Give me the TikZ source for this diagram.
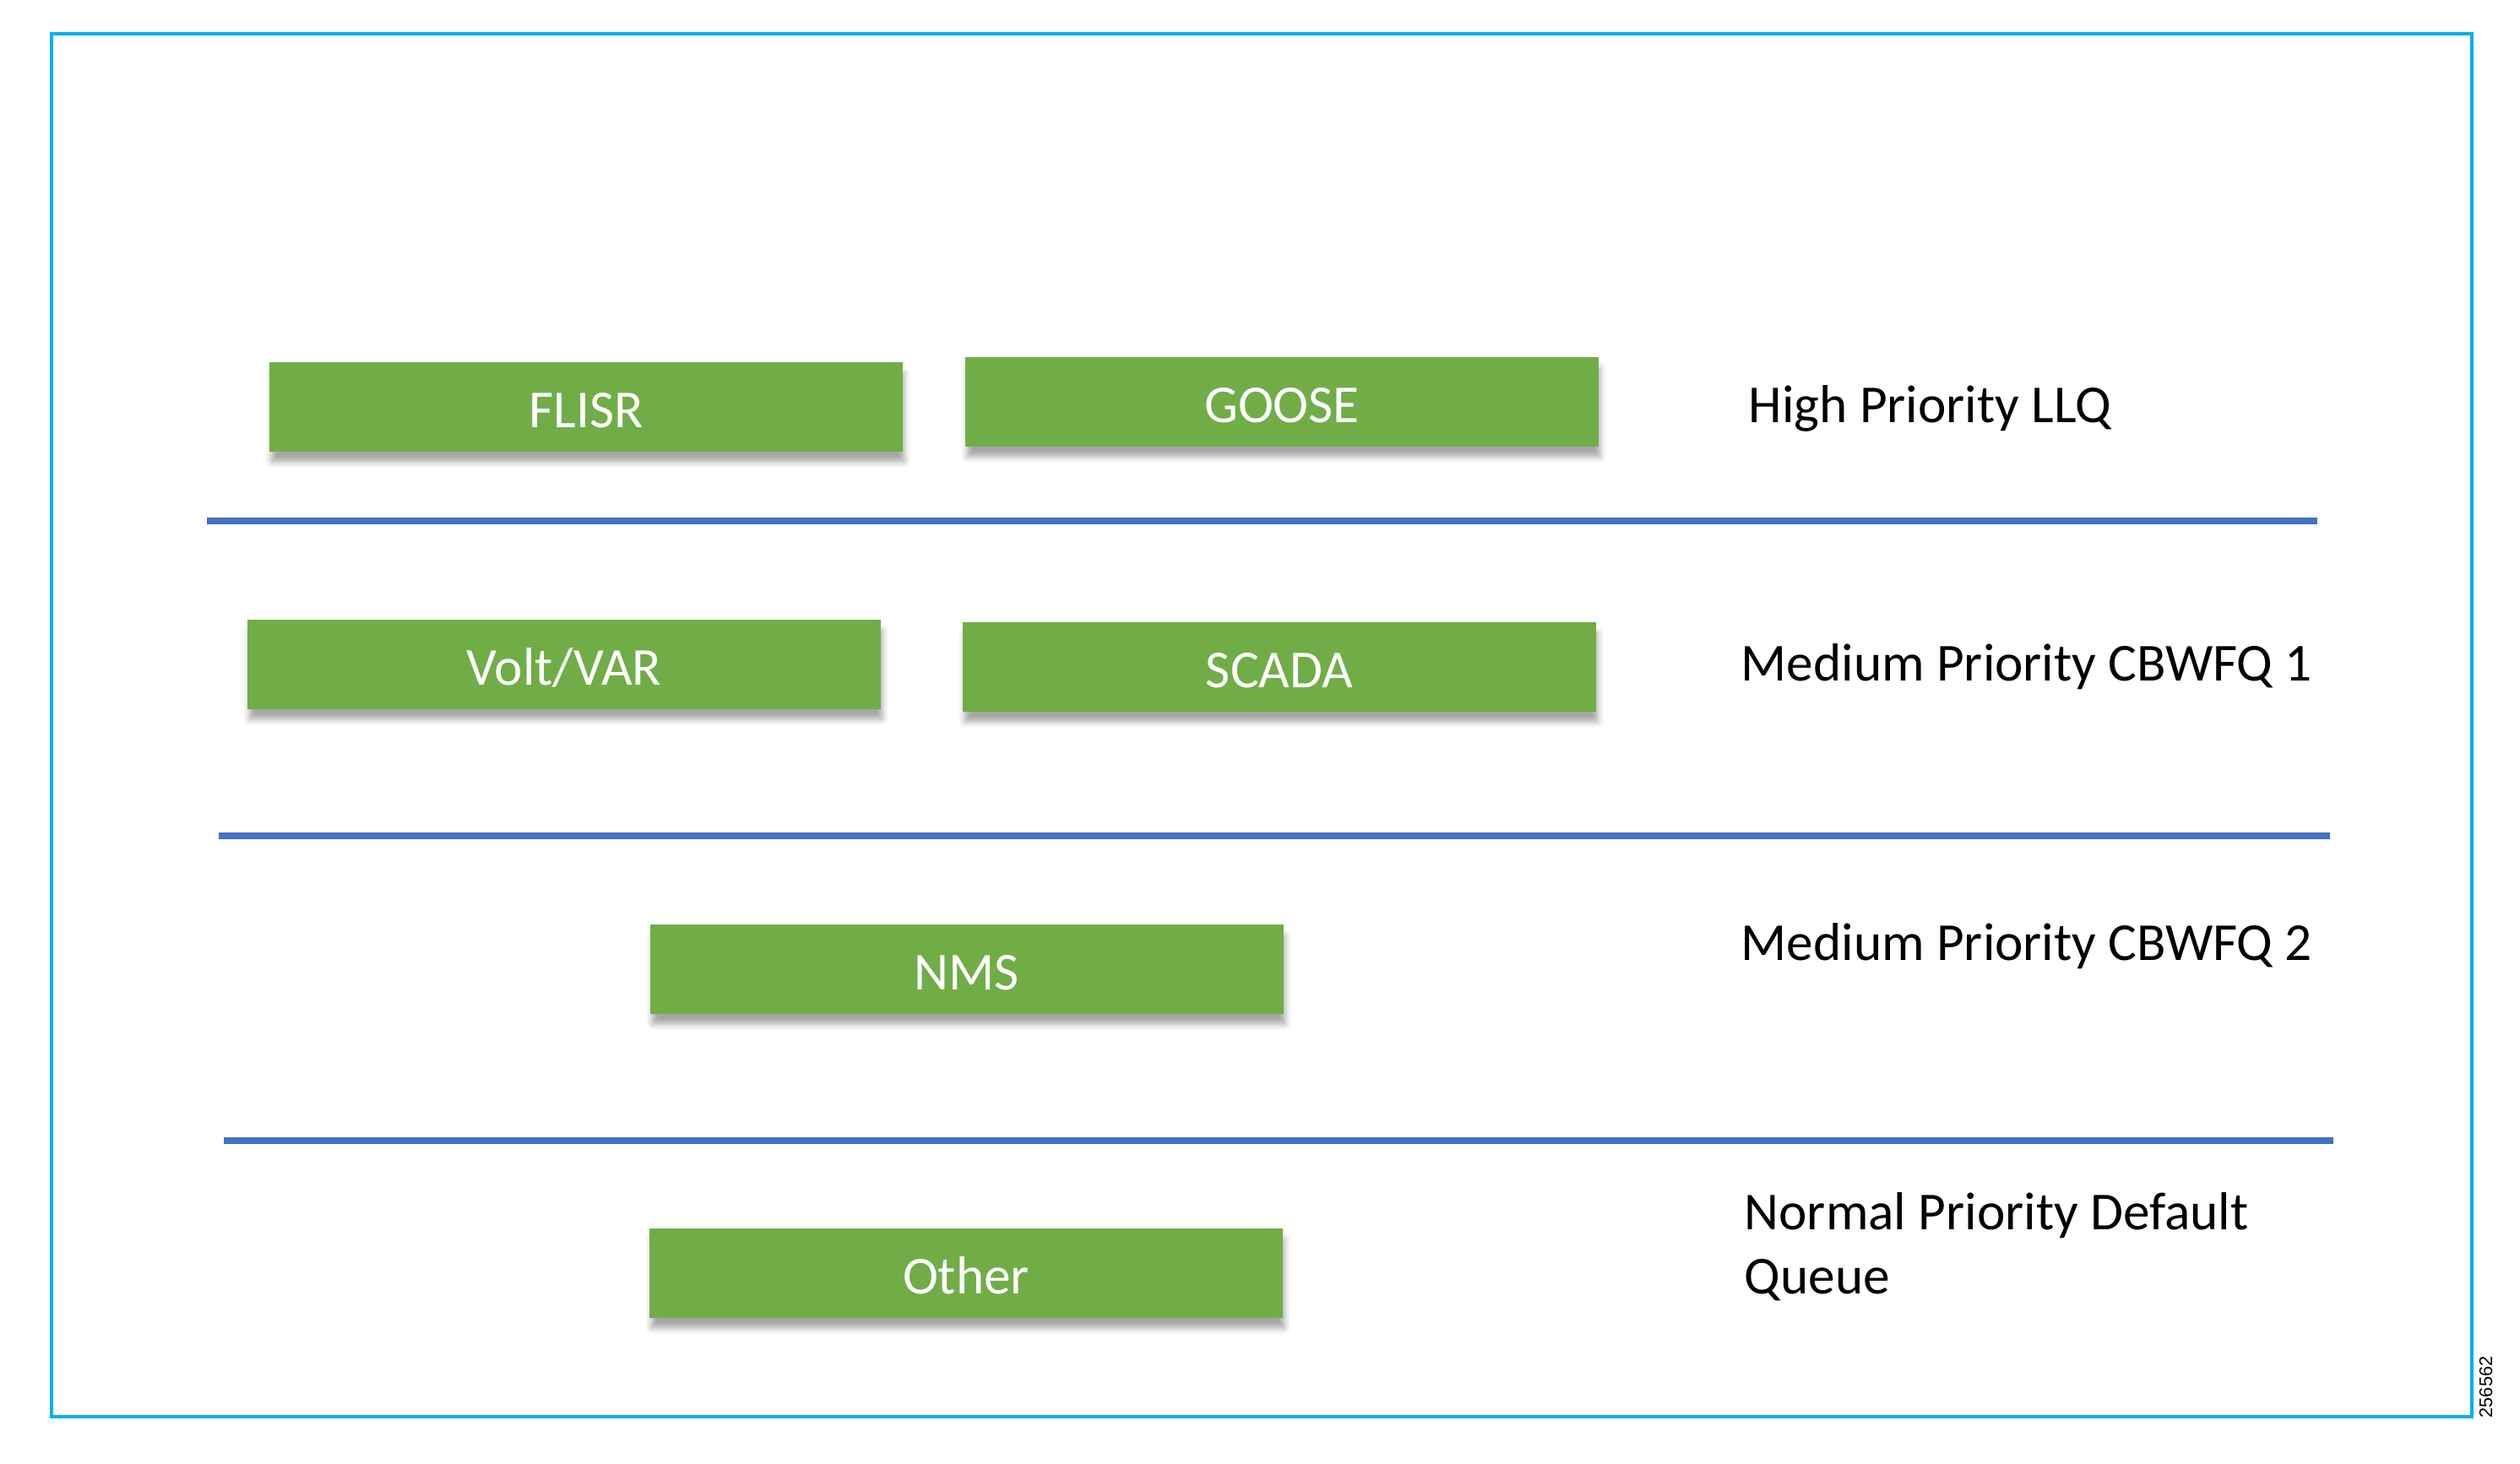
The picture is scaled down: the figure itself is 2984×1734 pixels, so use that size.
\documentclass[tikz,border=0pt]{standalone}
\usepackage{fontspec}
\setmainfont{Carlito}
\newfontfamily\figidfont{Liberation Sans}
\usetikzlibrary{positioning,shadows.blur}
\definecolor{boxgreen}{HTML}{70AD47}
\definecolor{sepblue}{HTML}{4472C4}
\definecolor{framecyan}{HTML}{00B0F0}

\begin{document}
\begin{tikzpicture}[
  x=0.01cm, y=-0.01cm,
  traffic/.style={rectangle, fill=boxgreen, minimum width=7.49cm, minimum height=1.05cm,
    inner sep=0pt, text height=13.8pt, text depth=0pt, text=white,
    font=\fontsize{18}{21.6}\selectfont,
    blur shadow={shadow xshift=0.6pt, shadow yshift=-3.5pt, shadow blur radius=2pt,
      shadow opacity=35}},
  queue/.style={anchor=west, align=left, inner sep=0pt, font=\fontsize{18}{21.6}\selectfont},
  separator/.style={draw=sepblue, line width=2pt},
  every node/.style={align=center}
]

\useasboundingbox (0,0) rectangle (2984,1734);
\draw[framecyan, line width=1.1pt] (61,40) rectangle (2927,1678);

\node[traffic] (flisr) at (694,482) {FLISR};
\node[traffic] (goose) at (1518,476) {GOOSE};

\node[traffic] (voltvar) at (668,787) {Volt/VAR};
\node[traffic] (scada) at (1515,790) {SCADA};

\node[traffic] (nms) at (1145,1148) {NMS};

\node[traffic] (other) at (1144,1508) {Other};

\node[queue] (llq) at (2070,484) {High Priority LLQ};
\node[queue] (cbwfqone) at (2061,790) {Medium Priority CBWFQ 1};
\node[queue] (cbwfqtwo) at (2061,1121) {Medium Priority CBWFQ 2};
\node[queue] (default) at (2065,1477) {Normal Priority Default\\Queue};

\draw[separator] (245,617) -- (2744,617);
\draw[separator] (259,990) -- (2759,990);
\draw[separator] (265,1351) -- (2763,1351);

\node[rotate=90, anchor=south west, inner sep=0pt, font=\figidfont\fontsize{6.2}{7}\selectfont]
  (figid) at (2952,1680) {256562};

\end{tikzpicture}
\end{document}
